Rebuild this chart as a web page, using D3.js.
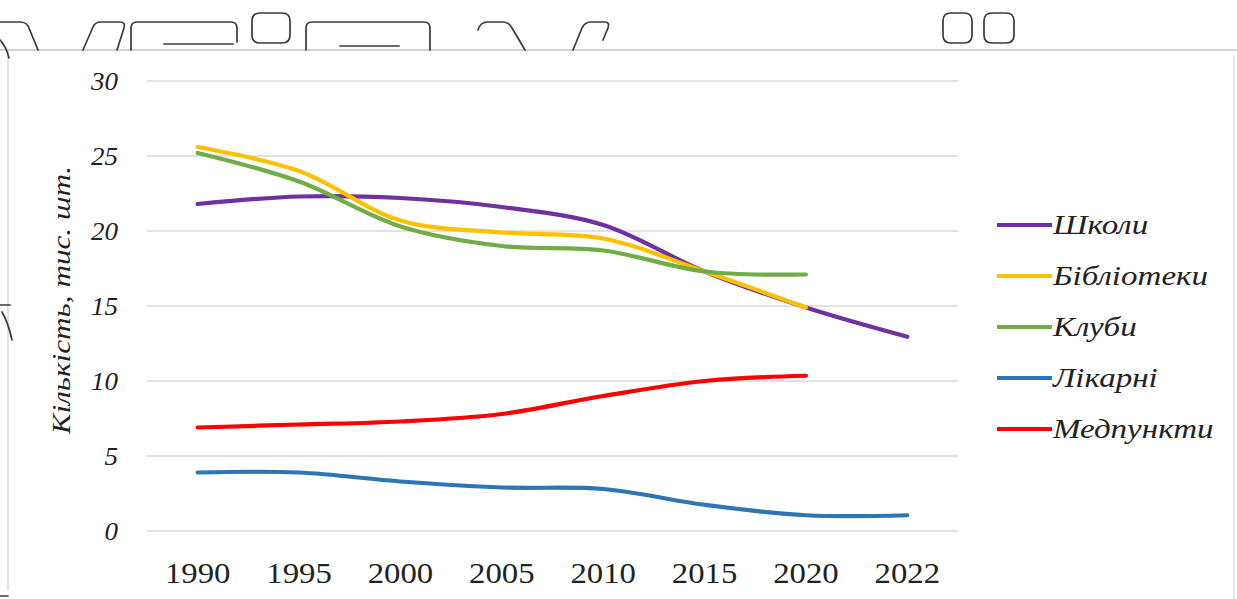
<!DOCTYPE html>
<html>
<head>
<meta charset="utf-8">
<script src="https://cdn.jsdelivr.net/npm/d3@7/dist/d3.min.js"></script>
<style>
  html, body { margin: 0; padding: 0; background: #fff; }
  svg { display: block; }
  text { font-family: "Liberation Serif", "Times New Roman", serif; fill: #222; }
</style>
</head>
<body>
<svg id="chart" width="1237" height="599"></svg>
<script>
// Years on the category axis
const years = ["1990", "1995", "2000", "2005", "2010", "2015", "2020", "2022"];

// Counts, thousand units (null = no data for that year)
const schools   = [21.8, 22.3, 22.2, 21.6, 20.4, 17.3, 14.9, 12.95];
const libraries = [25.6, 24.0, 20.7, 19.9, 19.5, 17.3, 14.9, null];
const clubs     = [25.2, 23.3, 20.3, 19.0, 18.7, 17.3, 17.1, null];
const hospitals = [3.9, 3.9, 3.3, 2.9, 2.8, 1.75, 1.05, 1.05];
const medposts  = [6.9, 7.1, 7.3, 7.8, 9.0, 10.0, 10.35, null];

const seriesNames  = ["Школи", "Бібліотеки", "Клуби", "Лікарні", "Медпункти"];
const seriesColors = ["#7030A0", "#FFC000", "#70AD47", "#2E75B6", "#FF0000"];
const seriesValues = [schools, libraries, clubs, hospitals, medposts];

const yTicks = [0, 5, 10, 15, 20, 25, 30];
const yTitle = "Кількість, тис. шт.";

const svg = d3.select("#chart");

// ---- window chrome around the chart (icon outlines, frame lines) ----
const chrome = svg.append("g").attr("fill", "none");
chrome.append("line").attr("x1", 0).attr("x2", 1237).attr("y1", 50).attr("y2", 50)
  .attr("stroke", "#d4d4d4").attr("stroke-width", 2);
chrome.append("line").attr("x1", 8).attr("x2", 8).attr("y1", 50).attr("y2", 590)
  .attr("stroke", "#d8d8d8").attr("stroke-width", 1.5);
chrome.append("line").attr("x1", 1234).attr("x2", 1234).attr("y1", 55).attr("y2", 599)
  .attr("stroke", "#e4e4e4").attr("stroke-width", 1.5);
const iconPaths = [
  "M0,22 L20,22 Q27,22 29,28 L38,50",
  "M0,40 Q6,46 9,58",
  "M83,50 L93,27 Q95,22 101,22 L120,22 Q126,22 124,28 L117,50",
  "M131,50 L131,28 Q131,22 137,22 L231,22 Q237,22 237,28 L237,42",
  "M164,44 L233,44",
  "M260,13 L282,13 Q290,13 290,21 L290,35 Q290,43 282,43 L260,43 Q252,43 252,35 L252,21 Q252,13 260,13 Z",
  "M306,50 L306,28 Q306,22 312,22 L424,22 Q430,22 430,28 L430,50",
  "M340,46 L399,46",
  "M478,30 Q480,22 488,22 L503,22 Q509,22 512,28 L525,50",
  "M573,50 L582,28 Q585,22 591,22 L605,22 Q610,22 608,28 L603,40",
  "M951,13 L964,13 Q972,13 972,21 L972,35 Q972,43 964,43 L951,43 Q943,43 943,35 L943,21 Q943,13 951,13 Z",
  "M992,13 L1006,13 Q1014,13 1014,21 L1014,35 Q1014,43 1006,43 L992,43 Q984,43 984,35 L984,21 Q984,13 992,13 Z",
  "M0,305 L10,305",
  "M2,312 Q8,322 12,340",
  "M0,596 L8,596"
];
chrome.selectAll("path.icon").data(iconPaths).join("path")
  .attr("class", "icon").attr("d", d => d)
  .attr("stroke", "#3a3a3a").attr("stroke-width", 1.7).attr("stroke-linecap", "round");

// ---- scales ----
const x = d3.scaleBand().domain(years).range([147, 958]).padding(0);
const xc = d => x(d) + x.bandwidth() / 2;
const y = d3.scaleLinear().domain([0, 30]).range([531, 81]);

// ---- horizontal gridlines ----
svg.append("g").selectAll("line").data(yTicks).join("line")
  .attr("x1", 147).attr("x2", 958)
  .attr("y1", d => y(d)).attr("y2", d => y(d))
  .attr("stroke", "#d9d9d9").attr("stroke-width", 1.3);

// ---- y axis labels (no domain line / ticks) ----
const yAxis = d3.axisLeft(y).tickValues(yTicks).tickSize(0).tickPadding(0);
const yg = svg.append("g").attr("transform", "translate(118,0)").call(yAxis);
yg.select(".domain").remove();
yg.selectAll("text")
  .attr("transform", "scale(1.08,1)")
  .style("font-family", "'Liberation Serif', serif")
  .style("font-style", "italic").style("font-size", "25px").attr("fill", "#222");

// ---- x axis labels ----
const xAxis = d3.axisBottom(x).tickSize(0).tickPadding(0);
const xg = svg.append("g").attr("transform", "translate(0,562)").call(xAxis);
xg.select(".domain").remove();
xg.selectAll("text")
  .attr("transform", "scale(1.13,1)")
  .style("font-family", "'Liberation Serif', serif")
  .style("font-size", "29px").attr("fill", "#222");

// ---- y axis title ----
svg.append("text")
  .attr("transform", "translate(70,300) rotate(-90) scale(1.2,1)")
  .attr("text-anchor", "middle")
  .style("font-style", "italic").style("font-size", "26px")
  .text(yTitle);

// ---- series lines ----
const line = d3.line()
  .defined(d => d.v != null)
  .x(d => xc(d.year))
  .y(d => y(d.v))
  .curve(d3.curveCatmullRom.alpha(0.5));

seriesNames.forEach((name, i) => {
  const pts = years.map((yr, j) => ({ year: yr, v: seriesValues[i][j] }));
  svg.append("path")
    .datum(pts)
    .attr("d", line)
    .attr("fill", "none")
    .attr("stroke", seriesColors[i])
    .attr("stroke-width", 4.2)
    .attr("stroke-linecap", "round")
    .attr("stroke-linejoin", "round");
});

// ---- legend ----
const legend = svg.append("g").attr("transform", "translate(997,225)");
const items = legend.selectAll("g").data(seriesNames).join("g")
  .attr("transform", (d, i) => `translate(0,${i * 51})`);
items.append("line")
  .attr("x1", 0).attr("x2", 55).attr("y1", 0).attr("y2", 0)
  .attr("stroke", (d, i) => seriesColors[i]).attr("stroke-width", 4);
items.append("text")
  .attr("transform", "translate(56,0) scale(1.18,1)")
  .attr("dy", "0.33em")
  .style("font-style", "italic").style("font-size", "28px")
  .text(d => d);
</script>
</body>
</html>
